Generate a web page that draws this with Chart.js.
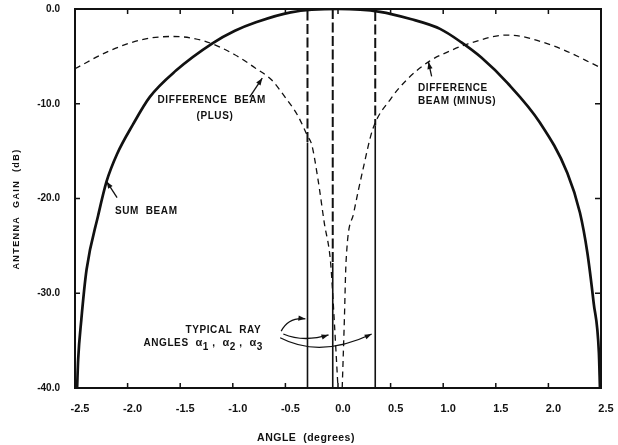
<!DOCTYPE html>
<html>
<head>
<meta charset="utf-8">
<script src="https://cdn.jsdelivr.net/npm/chart.js@4.4.0/dist/chart.umd.min.js"></script>
<style>
  html, body { margin: 0; padding: 0; background: #fff; }
  #wrap { width: 618px; height: 445px; position: relative; }
</style>
</head>
<body>
<div id="wrap"><canvas id="chart"></canvas></div>
<script>
// ─── Data (angle in degrees, gain in dB) ───
const SUM_ANGLE = [-2.48, -2.47, -2.44, -2.39, -2.28, -2.20, -2.10, -1.95, -1.79, -1.54, -1.19, -0.98, -0.78, -0.45, 0,
                   0.40, 0.69, 0.97, 1.17, 1.36, 1.61, 1.92, 2.18, 2.30, 2.37, 2.43, 2.48, 2.49];
const SUM_GAIN  = [-40, -37, -32.8, -27.5, -21.8, -18.2, -15.3, -12.2, -9.3, -6.5, -3.6, -2.3, -1.4, -0.35, 0,
                   -0.3, -1.06, -2.1, -3.5, -5.1, -7.8, -12, -17.3, -21.5, -25.7, -31, -36.3, -40];

const PLUS_ANGLE = [-2.5, -2.17, -1.85, -1.57, -1.28, -0.985, -0.79, -0.63, -0.51, -0.38, -0.29, -0.25, -0.19, -0.13, -0.07, -0.035, 0];
const PLUS_GAIN  = [-6.3, -4.4, -3.2, -2.9, -3.35, -4.8, -6.2, -7.5, -9.2, -11.3, -13.4, -14.3, -18, -22.6, -26.8, -33, -40];

const MINUS_ANGLE = [0.04, 0.06, 0.076, 0.15, 0.24, 0.33, 0.50, 0.66, 0.87, 1.07, 1.23, 1.61, 2.05, 2.5];
const MINUS_GAIN  = [-40, -33, -26.8, -21.5, -16.8, -12.7, -9.5, -7.4, -5.5, -4.4, -3.7, -2.75, -3.9, -6.2];

// typical ray angles: dashed from the sum beam down to the difference beam, solid below
const RAY_ANGLE = [-0.29, -0.05, 0.354];
const RAY_TOP   = [-0.15, 0, -0.2];
const RAY_SPLIT = [-14.1, -26.8, -12.3];
const FLOOR_DB  = -40;

const X_TICKS = [-2.5, -2.0, -1.5, -1.0, -0.5, 0.0, 0.5, 1.0, 1.5, 2.0, 2.5];
const Y_TICKS = [0, -10, -20, -30, -40];

const INK = '#111';
const FONT = '"Liberation Sans", Arial, sans-serif';

const pts = (xs, ys) => xs.map((x, i) => ({ x, y: ys[i] }));

const datasets = [
  { label: 'Sum beam', data: pts(SUM_ANGLE, SUM_GAIN), borderWidth: 2.7, cubicInterpolationMode: 'monotone' },
  { label: 'Difference beam (plus)', data: pts(PLUS_ANGLE, PLUS_GAIN), borderWidth: 1.3, borderDash: [6, 4.5], cubicInterpolationMode: 'monotone' },
  { label: 'Difference beam (minus)', data: pts(MINUS_ANGLE, MINUS_GAIN), borderWidth: 1.3, borderDash: [6, 4.5], cubicInterpolationMode: 'monotone' },
];
RAY_ANGLE.forEach((a, i) => {
  datasets.push({ label: `Ray ${i + 1} upper`, data: [{ x: a, y: RAY_TOP[i] }, { x: a, y: RAY_SPLIT[i] }], borderWidth: 2, borderDash: [10, 3.5] });
  datasets.push({ label: `Ray ${i + 1} lower`, data: [{ x: a, y: RAY_SPLIT[i] }, { x: a, y: FLOOR_DB }], borderWidth: 1.6 });
});
datasets.forEach(d => Object.assign(d, { borderColor: INK, pointRadius: 0, fill: false, tension: 0 }));

// ─── Annotations (in data coordinates) ───
const LABELS = [
  { text: 'DIFFERENCE  BEAM', x: -1.20, y: -9.6, align: 'center' },
  { text: '(PLUS)', x: -1.17, y: -11.3, align: 'center' },
  { text: 'DIFFERENCE', x: 0.76, y: -8.4, align: 'left' },
  { text: 'BEAM (MINUS)', x: 0.76, y: -9.7, align: 'left' },
  { text: 'SUM  BEAM', x: -2.12, y: -21.3, align: 'left' },
  { text: 'TYPICAL  RAY', x: -1.09, y: -33.9, align: 'center' },
];
const ARROWS = [
  { from: [-0.84, -9.3], to: [-0.72, -7.3] },
  { from: [0.89, -7.1], to: [0.86, -5.6] },
  { from: [-2.10, -19.9], to: [-2.20, -18.2] },
];
const CURVES = [
  { from: [-0.54, -34.0], ctrl: [-0.47, -32.5], to: [-0.31, -32.7] },
  { from: [-0.52, -34.3], ctrl: [-0.33, -35.2], to: [-0.09, -34.4] },
  { from: [-0.55, -34.7], ctrl: [-0.17, -36.9], to: [0.32, -34.3] },
];

function arrowHead(ctx, x0, y0, x1, y1, len = 7, half = 2.6) {
  const ang = Math.atan2(y1 - y0, x1 - x0);
  ctx.beginPath();
  ctx.moveTo(x1, y1);
  ctx.lineTo(x1 - len * Math.cos(ang) + half * Math.sin(ang), y1 - len * Math.sin(ang) - half * Math.cos(ang));
  ctx.lineTo(x1 - len * Math.cos(ang) - half * Math.sin(ang), y1 - len * Math.sin(ang) + half * Math.cos(ang));
  ctx.closePath();
  ctx.fill();
}

const decor = {
  id: 'decor',
  afterDatasetsDraw(chart) {
    const { ctx, chartArea: a, scales: { x, y } } = chart;
    const px = v => x.getPixelForValue(v);
    const py = v => y.getPixelForValue(v);
    ctx.save();
    ctx.strokeStyle = INK;
    ctx.fillStyle = INK;
    ctx.setLineDash([]);

    // frame
    ctx.lineWidth = 2;
    ctx.strokeRect(a.left, a.top, a.right - a.left, a.bottom - a.top);

    // inward tick marks on all four sides
    ctx.lineWidth = 1.5;
    ctx.beginPath();
    X_TICKS.forEach(v => {
      const X = px(v);
      ctx.moveTo(X, a.bottom); ctx.lineTo(X, a.bottom - 5);
      ctx.moveTo(X, a.top); ctx.lineTo(X, a.top + 5);
    });
    Y_TICKS.forEach(v => {
      const Y = py(v);
      ctx.moveTo(a.left, Y); ctx.lineTo(a.left + 5, Y);
      ctx.moveTo(a.right, Y); ctx.lineTo(a.right - 6, Y);
    });
    ctx.stroke();

    // axis titles
    ctx.font = `bold 10.5px ${FONT}`;
    ctx.letterSpacing = '0.5px';
    ctx.textAlign = 'center';
    ctx.textBaseline = 'middle';
    ctx.fillText('ANGLE  (degrees)', 306, 438);
    ctx.save();
    ctx.translate(17, 209);
    ctx.rotate(-Math.PI / 2);
    ctx.font = `bold 9px ${FONT}`;
    ctx.letterSpacing = '1.4px';
    ctx.fillText('ANTENNA  GAIN  (dB)', 0, 0);
    ctx.restore();

    // text labels
    ctx.font = `bold 10px ${FONT}`;
    ctx.letterSpacing = '0.6px';
    LABELS.forEach(l => {
      ctx.textAlign = l.align;
      ctx.fillText(l.text, px(l.x), py(l.y));
    });

    // "ANGLES α1, α2, α3" with subscripts
    ctx.textAlign = 'left';
    let cx = px(-1.85);
    const cy = py(-35.3);
    const put = (s, dy, size) => {
      ctx.font = `bold ${size}px ${FONT}`;
      ctx.fillText(s, cx, cy + dy);
      cx += ctx.measureText(s).width;
    };
    put('ANGLES  ', 0, 10);
    ['1', '2', '3'].forEach((n, i) => {
      put('α', 0, 11);
      put(n, 4, 10);
      if (i < 2) put(' ,  ', 0, 10);
    });
    ctx.letterSpacing = '0px';

    // straight arrows
    ctx.lineWidth = 1.3;
    ARROWS.forEach(r => {
      const x0 = px(r.from[0]), y0 = py(r.from[1]), x1 = px(r.to[0]), y1 = py(r.to[1]);
      ctx.beginPath(); ctx.moveTo(x0, y0); ctx.lineTo(x1, y1); ctx.stroke();
      arrowHead(ctx, x0, y0, x1, y1);
    });

    // curved ray arrows
    CURVES.forEach(r => {
      const x0 = px(r.from[0]), y0 = py(r.from[1]);
      const xc = px(r.ctrl[0]), yc = py(r.ctrl[1]);
      const x1 = px(r.to[0]), y1 = py(r.to[1]);
      ctx.beginPath(); ctx.moveTo(x0, y0); ctx.quadraticCurveTo(xc, yc, x1, y1); ctx.stroke();
      arrowHead(ctx, xc, yc, x1, y1);
    });
    ctx.restore();
  },
};

new Chart(document.getElementById('chart'), {
  type: 'line',
  data: { datasets },
  options: {
    responsive: true,
    maintainAspectRatio: false,
    animation: false,
    layout: { padding: 0 },
    plugins: { legend: { display: false }, tooltip: { enabled: false } },
    scales: {
      x: {
        type: 'linear',
        min: -2.5,
        max: 2.5,
        afterFit: s => { s.height = 57; s.paddingLeft = 0; s.paddingRight = 17; },
        afterBuildTicks: s => { s.ticks = X_TICKS.map(value => ({ value })); },
        grid: { display: false, drawTicks: false },
        border: { display: false },
        ticks: {
          color: INK,
          font: { family: FONT, size: 11, weight: 'bold' },
          padding: 14,
          labelOffset: 5,
          maxRotation: 0,
          callback: v => v.toFixed(1),
        },
      },
      y: {
        min: -40,
        max: 0,
        afterFit: s => { s.width = 75; s.paddingTop = 9; s.paddingBottom = 0; },
        afterBuildTicks: s => { s.ticks = Y_TICKS.map(value => ({ value })); },
        grid: { display: false, drawTicks: false },
        border: { display: false },
        ticks: {
          color: INK,
          font: { family: FONT, size: 10, weight: 'bold' },
          padding: 15,
          callback: v => v.toFixed(1),
        },
      },
    },
  },
  plugins: [decor],
});
</script>
</body>
</html>
